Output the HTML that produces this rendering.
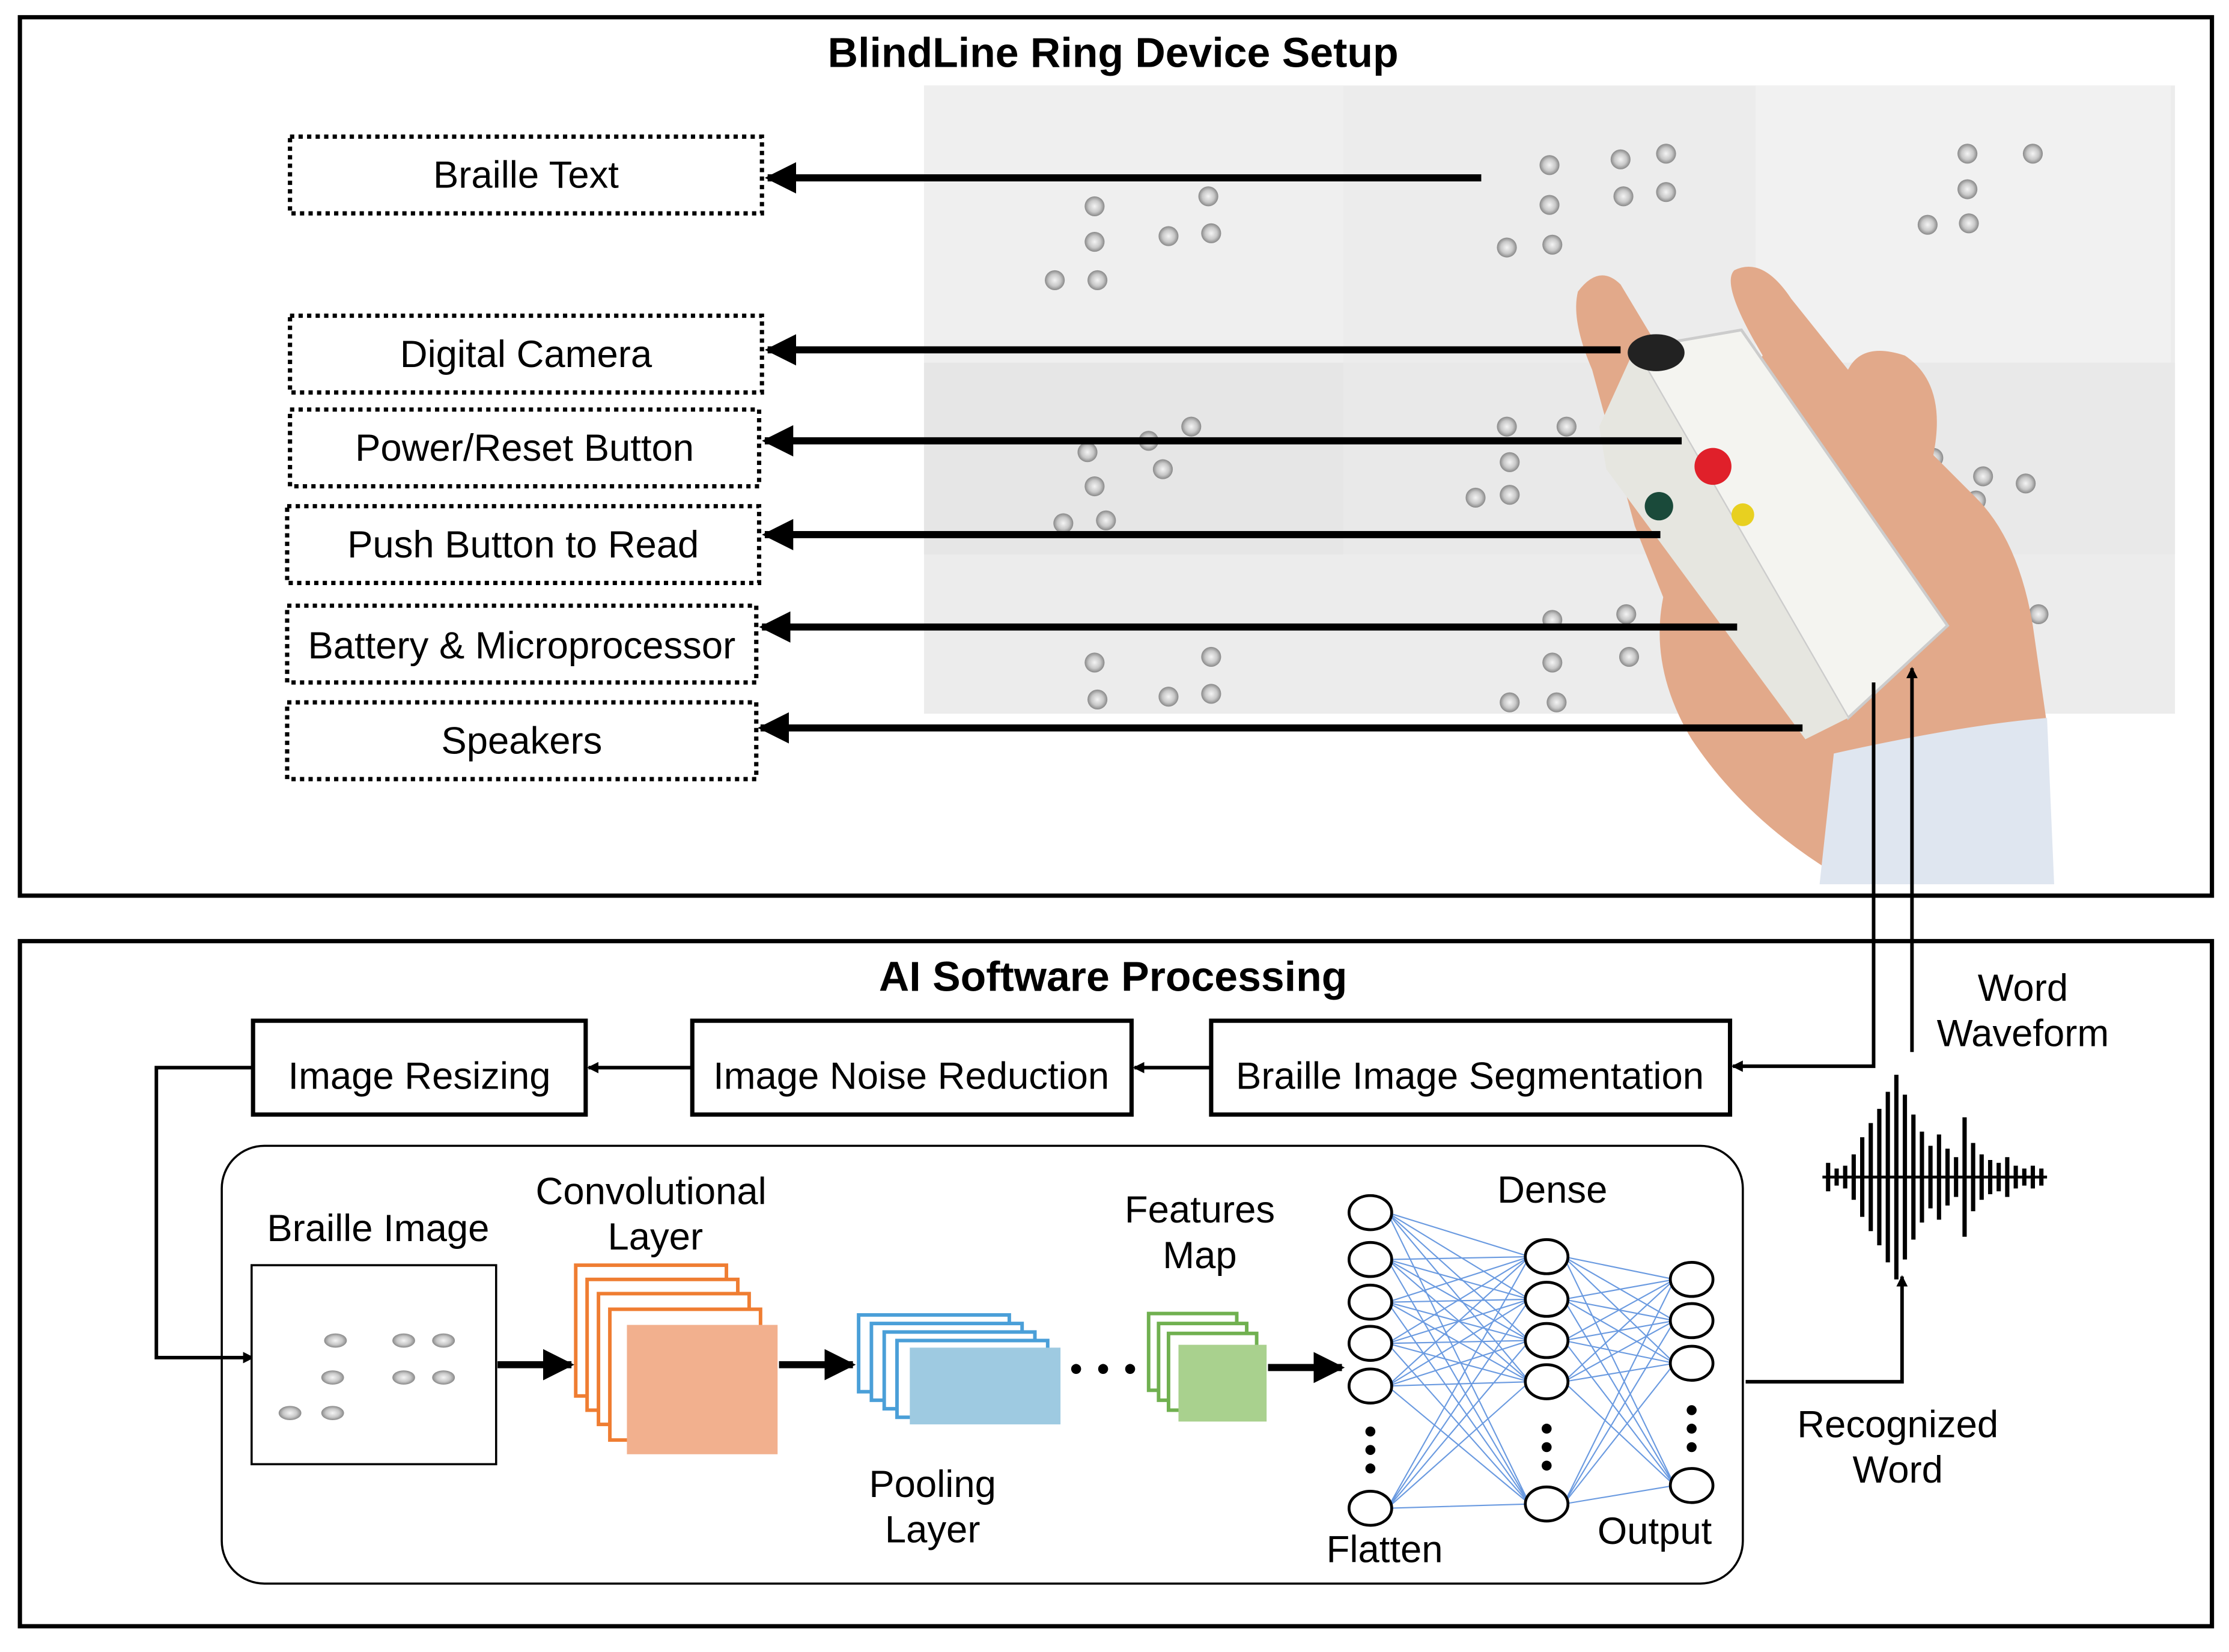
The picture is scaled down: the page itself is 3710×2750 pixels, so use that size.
<!DOCTYPE html>
<html><head><meta charset="utf-8"><style>html,body{margin:0;padding:0;background:#fff}svg{display:block}</style></head><body>
<svg width="3710" height="2750" viewBox="0 0 1568 1162" xmlns="http://www.w3.org/2000/svg" font-family="Liberation Sans, Arial, sans-serif">
<defs>
<marker id="ah" markerWidth="8" markerHeight="8" refX="7" refY="4" orient="auto" markerUnits="userSpaceOnUse"><path d="M0,0 L8,4 L0,8 z" fill="#000"/></marker>
<marker id="big" markerWidth="22" markerHeight="22" refX="20" refY="11" orient="auto" markerUnits="userSpaceOnUse"><path d="M0,0 L22,11 L0,22 z" fill="#000"/></marker>
<radialGradient id="dot"><stop offset="0" stop-color="#f4f4f4"/><stop offset="0.6" stop-color="#c8c8c8"/><stop offset="1" stop-color="#888"/></radialGradient>
</defs>
<rect x="0" y="0" width="1568" height="1162" fill="#fff"/>
<rect x="14" y="12" width="1542" height="618" fill="none" stroke="#000" stroke-width="3"/>
<text x="783" y="47" text-anchor="middle" font-size="29.5" font-weight="bold">BlindLine Ring Device Setup</text>
<rect x="650" y="60" width="880" height="442" fill="#ececec"/>
<rect x="650" y="60" width="295" height="195" fill="#efefef"/>
<rect x="1235" y="60" width="292" height="195" fill="#f1f1f1"/>
<rect x="650" y="255" width="295" height="135" fill="#e6e6e6"/>
<rect x="945" y="255" width="585" height="135" fill="#e9e9e9"/>
<g fill="url(#dot)">
<circle cx="770" cy="145" r="7"/><circle cx="770" cy="170" r="7"/><circle cx="742" cy="197" r="7"/><circle cx="772" cy="197" r="7"/><circle cx="822" cy="166" r="7"/><circle cx="850" cy="138" r="7"/><circle cx="852" cy="164" r="7"/>
<circle cx="1090" cy="116" r="7"/><circle cx="1090" cy="144" r="7"/><circle cx="1140" cy="112" r="7"/><circle cx="1172" cy="108" r="7"/><circle cx="1142" cy="138" r="7"/><circle cx="1172" cy="135" r="7"/><circle cx="1060" cy="174" r="7"/><circle cx="1092" cy="172" r="7"/>
<circle cx="1384" cy="108" r="7"/><circle cx="1430" cy="108" r="7"/><circle cx="1384" cy="133" r="7"/><circle cx="1356" cy="158" r="7"/><circle cx="1385" cy="157" r="7"/>
<circle cx="765" cy="318" r="7"/><circle cx="770" cy="342" r="7"/><circle cx="748" cy="368" r="7"/><circle cx="778" cy="366" r="7"/><circle cx="808" cy="310" r="7"/><circle cx="838" cy="300" r="7"/><circle cx="818" cy="330" r="7"/>
<circle cx="1060" cy="300" r="7"/><circle cx="1062" cy="325" r="7"/><circle cx="1038" cy="350" r="7"/><circle cx="1062" cy="348" r="7"/><circle cx="1102" cy="300" r="7"/>
<circle cx="1360" cy="322" r="7"/><circle cx="1395" cy="335" r="7"/><circle cx="1390" cy="352" r="7"/><circle cx="1425" cy="340" r="7"/>
<circle cx="770" cy="466" r="7"/><circle cx="772" cy="492" r="7"/><circle cx="822" cy="490" r="7"/><circle cx="852" cy="462" r="7"/><circle cx="852" cy="488" r="7"/>
<circle cx="1092" cy="436" r="7"/><circle cx="1092" cy="466" r="7"/><circle cx="1062" cy="494" r="7"/><circle cx="1095" cy="494" r="7"/><circle cx="1144" cy="432" r="7"/><circle cx="1146" cy="462" r="7"/><circle cx="1434" cy="432" r="7"/>
</g>
<path d="M1110 205 Q1125 185 1140 200 L1200 300 L1240 250 Q1210 200 1220 190 Q1240 180 1260 210 L1300 260 Q1310 240 1340 250 Q1370 270 1360 320 L1390 350 Q1420 380 1430 440 L1440 510 L1440 620 L1300 620 Q1230 580 1190 520 Q1160 470 1170 420 L1150 370 L1120 260 Q1105 225 1110 205 Z" fill="#e2a98a"/>
<path d="M1290 530 Q1380 510 1440 505 L1445 622 L1280 622 Z" fill="#dfe6f0"/>
<path d="M1150 245 L1225 232 L1370 440 L1300 505 Z" fill="#f4f4f0" stroke="#ccc" stroke-width="2"/>
<path d="M1125 300 L1150 245 L1300 505 L1270 520 L1130 330 Z" fill="#e6e6e0"/>
<ellipse cx="1165" cy="248" rx="20" ry="13" fill="#222"/>
<circle cx="1205" cy="328" r="13" fill="#e0202a"/>
<circle cx="1226" cy="362" r="8" fill="#e8d020"/>
<circle cx="1167" cy="356" r="10" fill="#1a4a3a"/>
<g fill="#fff" stroke="#000" stroke-width="3" stroke-dasharray="3,3">
<rect x="204" y="96" width="332" height="54"/>
<rect x="204" y="222" width="332" height="54"/>
<rect x="204" y="288" width="330" height="54"/>
<rect x="202" y="356" width="332" height="54"/>
<rect x="202" y="426" width="330" height="54"/>
<rect x="202" y="494" width="330" height="54"/>
</g>
<g font-size="26.8" text-anchor="middle">
<text x="370" y="132">Braille Text</text>
<text x="370" y="258">Digital Camera</text>
<text x="369" y="324">Power/Reset Button</text>
<text x="368" y="392">Push Button to Read</text>
<text x="367" y="463">Battery &amp; Microprocessor</text>
<text x="367" y="530">Speakers</text>
</g>
<g stroke="#000" stroke-width="5" marker-end="url(#big)">
<line x1="1042" y1="125" x2="540" y2="125"/>
<line x1="1140" y1="246" x2="540" y2="246"/>
<line x1="1183" y1="310" x2="538" y2="310"/>
<line x1="1168" y1="376" x2="538" y2="376"/>
<line x1="1222" y1="441" x2="536" y2="441"/>
<line x1="1268" y1="512" x2="535" y2="512"/>
</g>
<rect x="14" y="662" width="1542" height="482" fill="none" stroke="#000" stroke-width="3"/>
<text x="783" y="697" text-anchor="middle" font-size="29.5" font-weight="bold">AI Software Processing</text>
<g fill="#fff" stroke="#000" stroke-width="3">
<rect x="178" y="718" width="234" height="66"/>
<rect x="487" y="718" width="309" height="66"/>
<rect x="852" y="718" width="365" height="66"/>
</g>
<g font-size="26.8" text-anchor="middle">
<text x="295" y="766">Image Resizing</text>
<text x="641" y="766">Image Noise Reduction</text>
<text x="1034" y="766">Braille Image Segmentation</text>
</g>
<g stroke="#000" stroke-width="2.5" fill="none">
<line x1="487" y1="751" x2="414" y2="751" marker-end="url(#ah)"/>
<line x1="852" y1="751" x2="798" y2="751" marker-end="url(#ah)"/>
<polyline points="1318,480 1318,750 1219,750" marker-end="url(#ah)"/>
<line x1="1345" y1="740" x2="1345" y2="470" marker-end="url(#ah)"/>
<polyline points="178,751 110,751 110,955 178,955" marker-end="url(#ah)"/>
<polyline points="1228,972 1338,972 1338,898" marker-end="url(#ah)"/>
</g>
<g font-size="26.8" text-anchor="middle">
<text x="1423" y="704">Word</text>
<text x="1423" y="736">Waveform</text>
<text x="1335" y="1011">Recognized</text>
<text x="1335" y="1043">Word</text>
</g>
<g stroke="#000" stroke-width="3">
<line x1="1282" y1="828" x2="1440" y2="828" stroke-width="2"/>
<line x1="1286" y1="818" x2="1286" y2="838"/><line x1="1292" y1="822" x2="1292" y2="834"/><line x1="1298" y1="820" x2="1298" y2="836"/><line x1="1304" y1="812" x2="1304" y2="844"/><line x1="1310" y1="800" x2="1310" y2="856"/><line x1="1316" y1="790" x2="1316" y2="866"/><line x1="1322" y1="780" x2="1322" y2="876"/><line x1="1328" y1="768" x2="1328" y2="888"/><line x1="1334" y1="756" x2="1334" y2="900"/><line x1="1340" y1="770" x2="1340" y2="886"/><line x1="1346" y1="784" x2="1346" y2="872"/><line x1="1352" y1="796" x2="1352" y2="860"/><line x1="1358" y1="806" x2="1358" y2="850"/><line x1="1364" y1="798" x2="1364" y2="858"/><line x1="1370" y1="808" x2="1370" y2="848"/><line x1="1376" y1="814" x2="1376" y2="842"/><line x1="1382" y1="786" x2="1382" y2="870"/><line x1="1388" y1="804" x2="1388" y2="852"/><line x1="1394" y1="812" x2="1394" y2="844"/><line x1="1400" y1="816" x2="1400" y2="840"/><line x1="1406" y1="818" x2="1406" y2="838"/><line x1="1412" y1="814" x2="1412" y2="842"/><line x1="1418" y1="820" x2="1418" y2="836"/><line x1="1424" y1="822" x2="1424" y2="834"/><line x1="1430" y1="820" x2="1430" y2="836"/><line x1="1436" y1="822" x2="1436" y2="834"/>
</g>
<rect x="156" y="806" width="1070" height="308" rx="30" fill="none" stroke="#000" stroke-width="1.5"/>
<g font-size="26.8" text-anchor="middle">
<text x="266" y="873">Braille Image</text>
<text x="458" y="847">Convolutional</text>
<text x="461" y="879">Layer</text>
<text x="656" y="1053">Pooling</text>
<text x="656" y="1085">Layer</text>
<text x="844" y="860">Features</text>
<text x="844" y="892">Map</text>
<text x="1092" y="846">Dense</text>
<text x="974" y="1099">Flatten</text>
<text x="1164" y="1086">Output</text>
</g>
<rect x="177" y="890" width="172" height="140" fill="#fff" stroke="#000" stroke-width="1.5"/>
<g fill="url(#dot)"><ellipse cx="236" cy="943" rx="8" ry="5"/><ellipse cx="234" cy="969" rx="8" ry="5"/><ellipse cx="204" cy="994" rx="8" ry="5"/><ellipse cx="234" cy="994" rx="8" ry="5"/><ellipse cx="284" cy="943" rx="8" ry="5"/><ellipse cx="312" cy="943" rx="8" ry="5"/><ellipse cx="284" cy="969" rx="8" ry="5"/><ellipse cx="312" cy="969" rx="8" ry="5"/></g>
<g fill="#fff" stroke="#ef7d32" stroke-width="2.5">
<rect x="405" y="890" width="106" height="92"/><rect x="413" y="900" width="106" height="92"/><rect x="421" y="910" width="106" height="92"/><rect x="429" y="921" width="106" height="92"/>
</g>
<rect x="441" y="932" width="106" height="91" fill="#f2b08e"/>
<g fill="#fff" stroke="#4a9fd8" stroke-width="2.5">
<rect x="604" y="925" width="106" height="54"/><rect x="613" y="931" width="106" height="54"/><rect x="622" y="937" width="106" height="54"/><rect x="631" y="943" width="106" height="54"/>
</g>
<rect x="640" y="948" width="106" height="54" fill="#9ecae1"/>
<g fill="#000"><circle cx="757" cy="963" r="3.5"/><circle cx="776" cy="963" r="3.5"/><circle cx="795" cy="963" r="3.5"/></g>
<g fill="#fff" stroke="#70b050" stroke-width="2.5">
<rect x="808" y="924" width="62" height="54"/><rect x="815" y="931" width="62" height="54"/><rect x="822" y="938" width="62" height="54"/>
</g>
<rect x="829" y="946" width="62" height="54" fill="#a9d18e"/>
<g stroke="#000" stroke-width="5" marker-end="url(#big)">
<line x1="350" y1="960" x2="402" y2="960"/>
<line x1="548" y1="960" x2="600" y2="960"/>
<line x1="892" y1="962" x2="944" y2="962"/>
</g>
<g stroke="#6a9ae0" stroke-width="0.9" fill="none">
<path d="M976 853 L1076 884 M976 853 L1076 914 M976 853 L1076 943 M976 853 L1076 972 M976 853 L1076 1058
M976 886 L1076 884 M976 886 L1076 914 M976 886 L1076 943 M976 886 L1076 972 M976 886 L1076 1058
M976 916 L1076 884 M976 916 L1076 914 M976 916 L1076 943 M976 916 L1076 972 M976 916 L1076 1058
M976 945 L1076 884 M976 945 L1076 914 M976 945 L1076 943 M976 945 L1076 972 M976 945 L1076 1058
M976 975 L1076 884 M976 975 L1076 914 M976 975 L1076 943 M976 975 L1076 972 M976 975 L1076 1058
M976 1061 L1076 884 M976 1061 L1076 914 M976 1061 L1076 943 M976 1061 L1076 972 M976 1061 L1076 1058
M1100 884 L1178 900 M1100 884 L1178 929 M1100 884 L1178 959 M1100 884 L1178 1045
M1100 914 L1178 900 M1100 914 L1178 929 M1100 914 L1178 959 M1100 914 L1178 1045
M1100 943 L1178 900 M1100 943 L1178 929 M1100 943 L1178 959 M1100 943 L1178 1045
M1100 972 L1178 900 M1100 972 L1178 929 M1100 972 L1178 959 M1100 972 L1178 1045
M1100 1058 L1178 900 M1100 1058 L1178 929 M1100 1058 L1178 959 M1100 1058 L1178 1045"/>
</g>
<g fill="#fff" stroke="#000" stroke-width="2">
<ellipse cx="964" cy="853" rx="15" ry="12"/><ellipse cx="964" cy="886" rx="15" ry="12"/><ellipse cx="964" cy="916" rx="15" ry="12"/><ellipse cx="964" cy="945" rx="15" ry="12"/><ellipse cx="964" cy="975" rx="15" ry="12"/><ellipse cx="964" cy="1061" rx="15" ry="12"/>
<ellipse cx="1088" cy="884" rx="15" ry="12"/><ellipse cx="1088" cy="914" rx="15" ry="12"/><ellipse cx="1088" cy="943" rx="15" ry="12"/><ellipse cx="1088" cy="972" rx="15" ry="12"/><ellipse cx="1088" cy="1058" rx="15" ry="12"/>
<ellipse cx="1190" cy="900" rx="15" ry="12"/><ellipse cx="1190" cy="929" rx="15" ry="12"/><ellipse cx="1190" cy="959" rx="15" ry="12"/><ellipse cx="1190" cy="1045" rx="15" ry="12"/>
</g>
<g fill="#000">
<circle cx="964" cy="1007" r="3.5"/><circle cx="964" cy="1020" r="3.5"/><circle cx="964" cy="1033" r="3.5"/>
<circle cx="1088" cy="1005" r="3.5"/><circle cx="1088" cy="1018" r="3.5"/><circle cx="1088" cy="1031" r="3.5"/>
<circle cx="1190" cy="992" r="3.5"/><circle cx="1190" cy="1005" r="3.5"/><circle cx="1190" cy="1018" r="3.5"/>
</g>
</svg>
</body></html>
